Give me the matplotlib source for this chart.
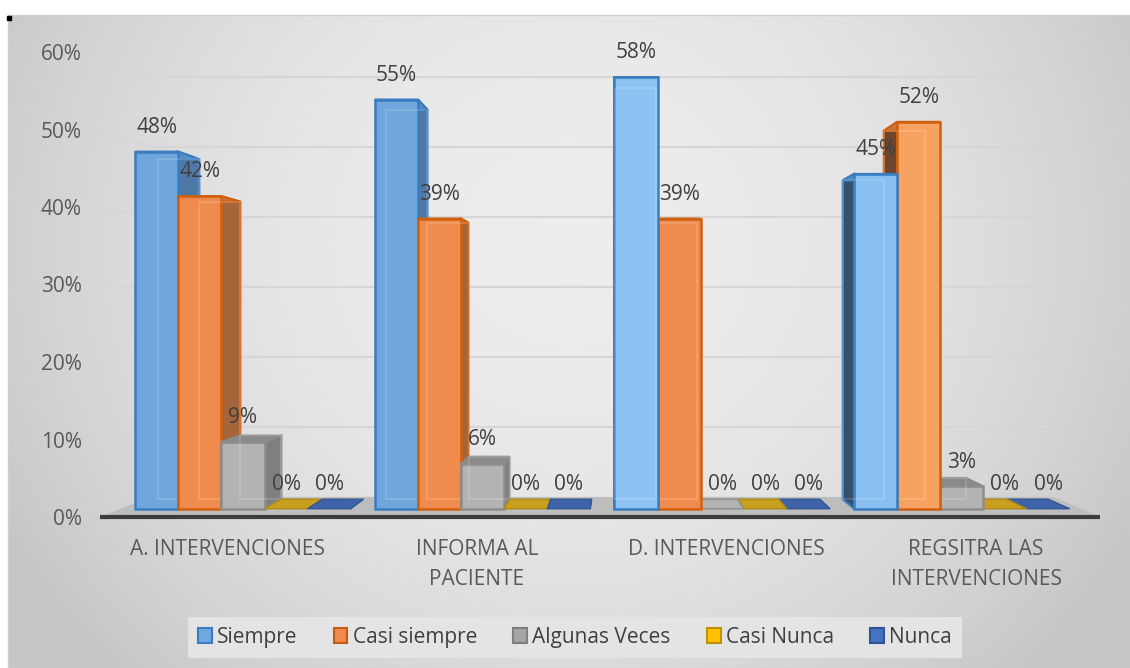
import numpy as np
import matplotlib
matplotlib.use("Agg")
import matplotlib.pyplot as plt
from matplotlib.patches import Polygon, Patch, Rectangle

plt.rcParams['font.family'] = ['Open Sans', 'DejaVu Sans']

# datos
categorias = ["A. INTERVENCIONES", "INFORMA AL\nPACIENTE", "D. INTERVENCIONES", "REGSITRA LAS\nINTERVENCIONES"]
series = ["Siempre", "Casi siempre", "Algunas Veces", "Casi Nunca", "Nunca"]
siempre = [48, 55, 58, 45]
casi_siempre = [42, 39, 39, 52]
algunas_veces = [9, 6, 0, 3]
casi_nunca = [0, 0, 0, 0]
nunca = [0, 0, 0, 0]
valores = [siempre, casi_siempre, algunas_veces, casi_nunca, nunca]

# estilos (cara frontal, borde, lado derecho, lado izquierdo, techo)
estilos = [
    ('#6fa6db', '#3a7cc0', '#4e79a6', '#34506c', '#5a8cc0'),
    ('#ef8b4d', '#d0600e', '#a5643a', '#6e4630', '#c8743c'),
    ('#b3b3b3', '#8c8c8c', '#7f7f7f', '#6f6f6f', '#8a8a8a'),
    ('#c8a01e', '#b08a10', '#a8860f', '#a8860f', '#c8a01e'),
    ('#3f62a8', '#2f5597', '#2f4f8a', '#2f4f8a', '#3f62a8'),
]
claros = {(0, 2): '#8cc3f2', (0, 3): '#88c0f2', (1, 3): '#f8a262'}
leyenda_cols = [('#6fa8dc', '#3a7cc0'), ('#ed8a4c', '#c55a11'), ('#a5a5a5', '#7f7f7f'),
                ('#ffc000', '#bf9000'), ('#4472c4', '#2f5597')]

W, H = 1130, 668
fig = plt.figure(figsize=(W / 100, H / 100), dpi=100)
fig.patch.set_facecolor('white')

# fondo con degradado
bg = fig.add_axes([0, 0, 1, 1])
bg.set_xlim(0, W)
bg.set_ylim(H, 0)
bg.axis('off')
xx, yy = np.meshgrid(np.linspace(0, 1, 400), np.linspace(0, 1, 240))
r2 = ((xx - 0.5) / 0.55) ** 2 + ((yy - 0.35) / 0.9) ** 2
g = np.clip(0.93 - 0.14 * r2, 0.78, 0.935)
bg.imshow(np.dstack([g, g, g]), extent=(8, W, H, 15), aspect='auto', zorder=0)
bg.add_patch(Rectangle((8, 15), W - 8, H - 15, fill=False, ec='#cfcfcf', lw=1, zorder=1))
bg.plot([9], [18], marker='s', ms=2.5, color='black', zorder=2)

# ejes principales
ax = fig.add_axes([100 / W, (H - 517) / H, 1000 / W, 465 / H])
ax.set_xlim(-0.51, 3.496)
ax.set_ylim(0, 60)
ax.patch.set_alpha(0)
for sp in ax.spines.values():
    sp.set_visible(False)

vx, vy = 1.565, 26.7   # punto de fuga
s_fondo, s_f, s_b = 0.903, 0.96, 0.914


def proj(x, y, s):
    return (vx + (x - vx) * s, vy + (y - vy) * s)


x_izq, x_der = ax.get_xlim()

# suelo
ax.add_patch(Polygon([proj(x_izq, 0, 1), proj(x_der, 0, 1), proj(x_der, 0, s_fondo), proj(x_izq, 0, s_fondo)],
                     closed=True, fc='#bdbdbd', ec='none', zorder=1, clip_on=False))
ax.plot([x_izq, x_der], [0, 0], color='#3c3c3c', lw=3, zorder=2, clip_on=False, solid_capstyle='butt')

# líneas de división
for v in range(10, 61, 10):
    p0, p1 = proj(x_izq, v, 1), proj(x_izq, v, s_fondo)
    p2 = proj(x_der, v, s_fondo)
    ax.plot([p0[0], p1[0], p2[0]], [p0[1], p1[1], p2[1]], color='#d6d6d6', lw=1.5, zorder=1, clip_on=False)

# barras
ancho = 0.18
barras = []
for j in range(len(series)):
    for i in range(len(categorias)):
        x0 = i - 0.45 + j * ancho
        barras.append((abs(x0 + ancho / 2 - vx), i, j, x0, x0 + ancho, valores[j][i]))
barras.sort(reverse=True)

z = 3
for _, i, j, x0, x1, v in barras:
    cf, ce, cr, cl, ct = estilos[j]
    cf = claros.get((j, i), cf)
    if v == 0:
        ax.add_patch(Polygon([proj(x0, 0, s_f), proj(x1, 0, s_f), proj(x1, 0, s_b), proj(x0, 0, s_b)],
                             closed=True, fc=cf, ec=ce, lw=1, zorder=z))
    else:
        xs = x1 if (x0 + x1) / 2 < vx else x0
        ax.add_patch(Polygon([proj(xs, 0, s_f), proj(xs, 0, s_b), proj(xs, v, s_b), proj(xs, v, s_f)],
                             closed=True, fc=cr if xs == x1 else cl, ec=ce, lw=1.5, zorder=z))
        ax.add_patch(Polygon([proj(x0, v, s_f), proj(x1, v, s_f), proj(x1, v, s_b), proj(x0, v, s_b)],
                             closed=True, fc=ct, ec=ce, lw=1.5, zorder=z))
        ax.add_patch(Polygon([proj(x0, 0, s_f), proj(x1, 0, s_f), proj(x1, v, s_f), proj(x0, v, s_f)],
                             closed=True, fc=cf, ec=ce, lw=1.8, zorder=z + 0.5))
        # arista trasera vista por transparencia
        b = [proj(x0, 0, s_b), proj(x1, 0, s_b), proj(x1, v, s_b), proj(x0, v, s_b), proj(x0, 0, s_b)]
        ax.plot([p[0] for p in b], [p[1] for p in b], color='white', alpha=0.18, lw=1.2, zorder=z + 0.6)
    z += 1

# etiquetas de datos
for j in range(len(series)):
    for i in range(len(categorias)):
        x0 = i - 0.45 + j * ancho
        v = valores[j][i]
        ax.annotate(f"{v}%", proj(x0 + ancho / 2, v, s_f), xytext=(0, 17.5), textcoords='offset points',
                    ha='center', va='center', fontsize=15, color='#404040', zorder=50, annotation_clip=False)

ax.set_yticks(range(0, 61, 10))
ax.set_yticklabels([f"{t}%" for t in range(0, 61, 10)], fontsize=15, color='#595959')
ax.set_xticks(range(len(categorias)))
ax.set_xticklabels(categorias, fontsize=15, color='#595959', linespacing=1.55)
ax.tick_params(axis='both', length=0)
ax.tick_params(axis='y', pad=13)
ax.tick_params(axis='x', pad=16)

# leyenda
handles = [Patch(fc=fc, ec=ec, lw=1.5) for fc, ec in leyenda_cols]
leg = fig.legend(handles, series, loc='center', bbox_to_anchor=(575 / W, (H - 637.5) / H), ncol=5,
                 fontsize=15, frameon=True, fancybox=False, handlelength=0.65, handleheight=0.75,
                 handletextpad=0.25, columnspacing=1.75, borderpad=0.5)
leg.get_frame().set_facecolor('#e4e4e4')
leg.get_frame().set_edgecolor('none')
leg.get_frame().set_alpha(1)
for t in leg.get_texts():
    t.set_color('#404040')

fig.savefig('out.png', dpi=100)
